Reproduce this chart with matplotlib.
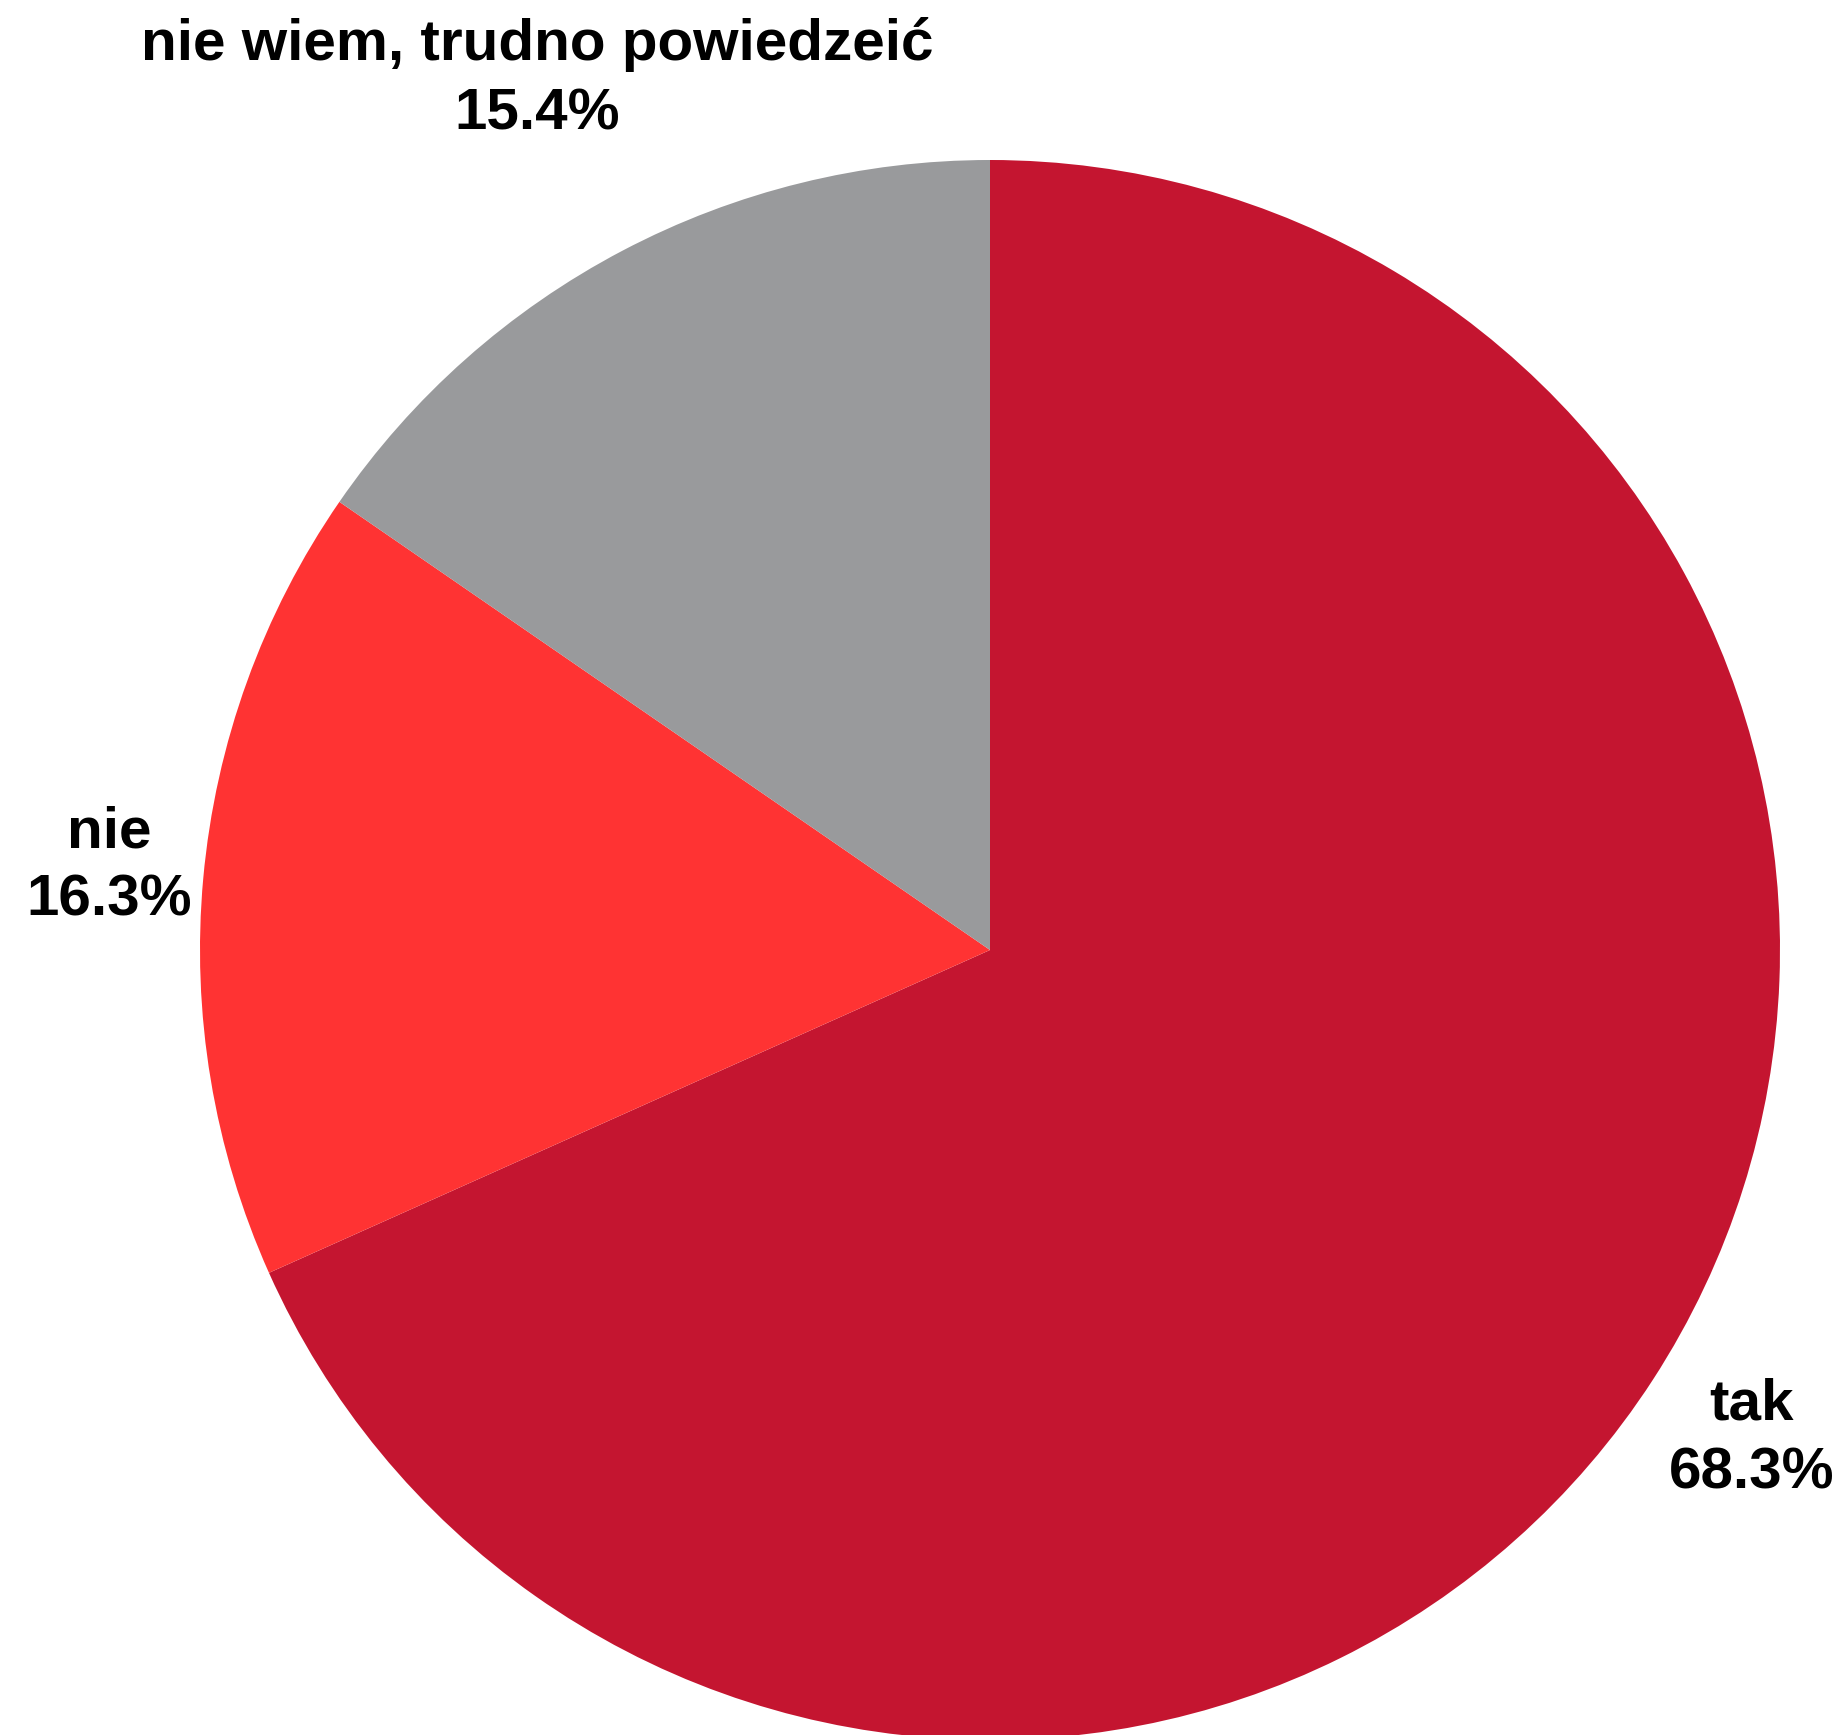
import matplotlib
matplotlib.use("Agg")
import matplotlib.pyplot as plt
from matplotlib import font_manager

categories = ["tak", "nie", "nie wiem, trudno powiedzeić"]
values = [68.3, 16.3, 15.4]
colors = ["#C41530", "#FF3333", "#999A9C"]

W, H = 1844, 1735
fig = plt.figure(figsize=(W / 100, H / 100), dpi=100)
ax = fig.add_axes([0, 0, 1, 1])
ax.set_xlim(0, W)
ax.set_ylim(0, H)
ax.set_aspect("equal")
ax.axis("off")

cx, cy, r = 990, H - 950, 790
ax.pie(values, colors=colors, startangle=90, counterclock=False,
       center=(cx, cy), radius=r, frame=True,
       wedgeprops=dict(linewidth=0))
ax.set_xlim(0, W)
ax.set_ylim(0, H)
ax.axis("off")

names = {f.name for f in font_manager.fontManager.ttflist}
narrow = "Liberation Sans Narrow" if "Liberation Sans Narrow" in names else "Liberation Sans"

fs = 42
label_pos = [(1751, 1404, 1752, 1473, "Liberation Sans"),
             (109, 833, 109, 900, "Liberation Sans"),
             (537, 45, 537, 115, narrow)]
for (name, val), (x1, y1, x2, y2, fam) in zip(zip(categories, values), label_pos):
    ax.text(x1, H - y1, name, ha="center", va="center", fontsize=fs,
            fontweight="bold", family=[fam, "DejaVu Sans"])
    ax.text(x2, H - y2, f"{val:.1f}%", ha="center", va="center", fontsize=fs,
            fontweight="bold", family=[fam, "DejaVu Sans"])

fig.savefig("out.png", dpi=100, facecolor="white")
